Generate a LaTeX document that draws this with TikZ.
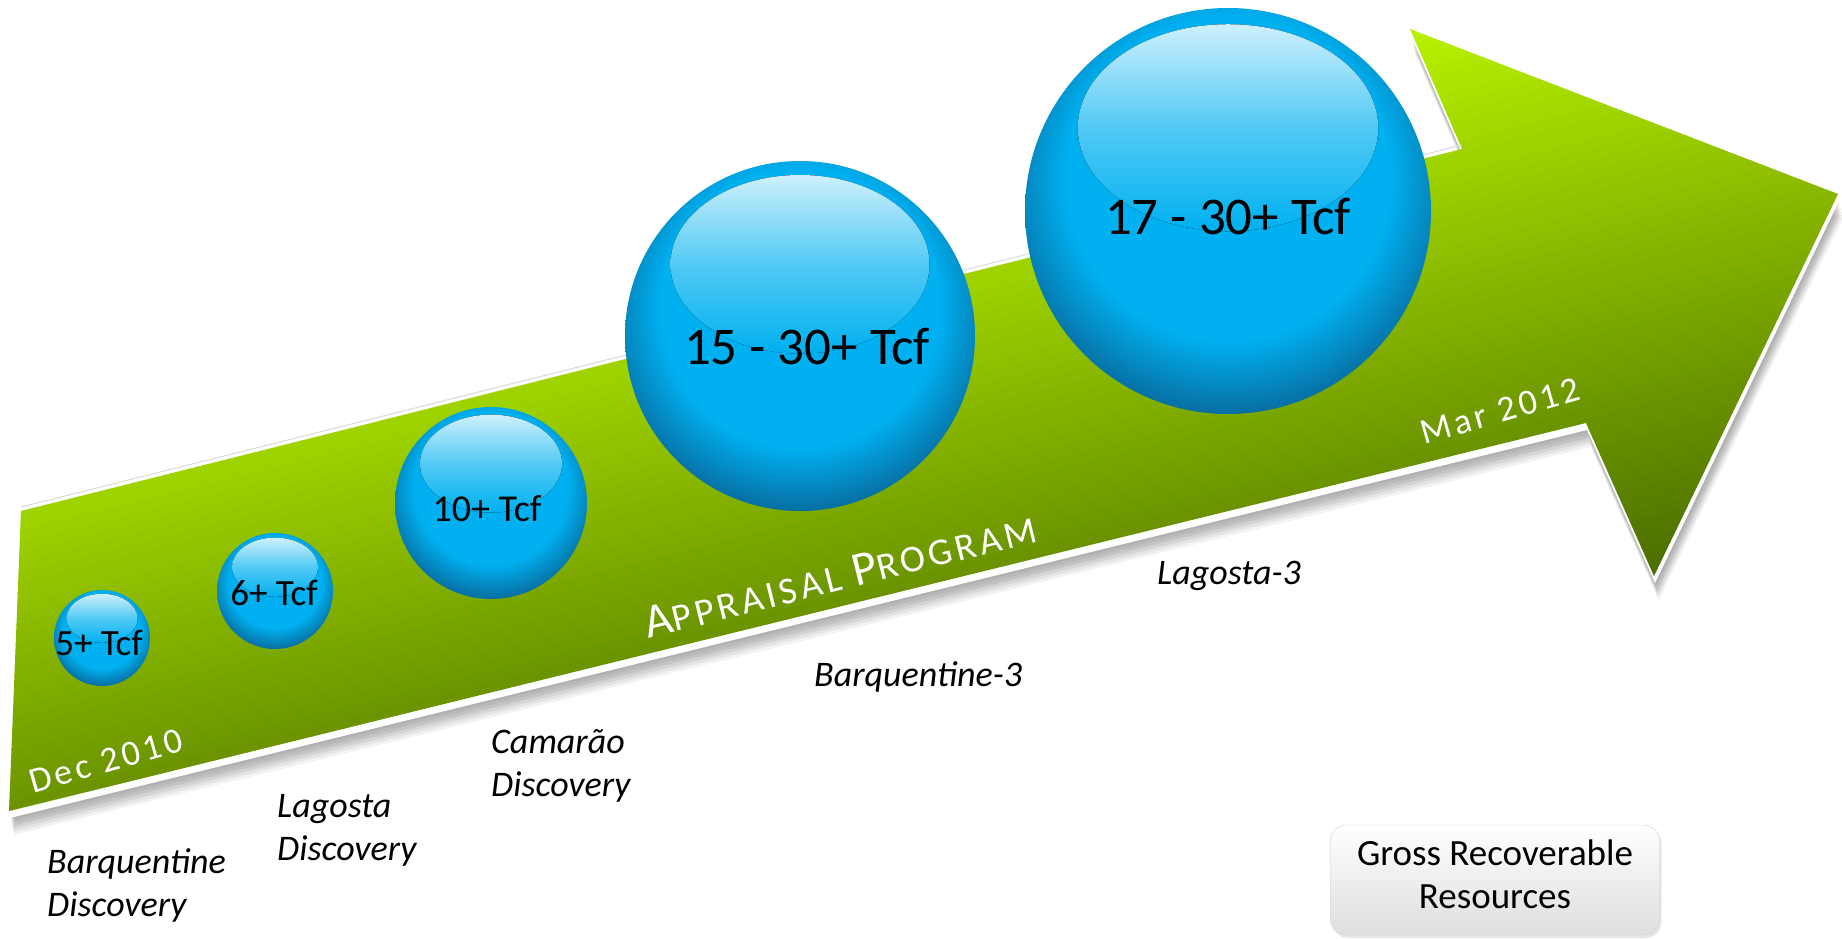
\documentclass[tikz,border=0pt]{standalone}
\usepackage{fontspec}
\setmainfont{Carlito}
\usetikzlibrary{calc,shadows}
\definecolor{bA}{HTML}{00B0F0}
\definecolor{bB}{HTML}{08689A}
\definecolor{hl}{HTML}{CDF0FB}
\definecolor{gLo}{HTML}{4A6C00}
\definecolor{gHi}{HTML}{BDF700}
\pgfdeclareradialshading{bubble}{\pgfpoint{0bp}{6bp}}{color(0bp)=(bA); color(20bp)=(bA); color(29bp)=(bB); color(60bp)=(bB)}
\newcommand\arrowshape[2]{(21+#1,427+#2) -- (1462+#1,789+#2) -- (1410+#1,909+#2) -- (1838+#1,744+#2) -- (1654+#1,362+#2) -- (1586+#1,515+#2) -- (9+#1,127+#2) -- cycle}
\newcommand\bubblehl[3]{\fill[top color=hl, bottom color=bA, middle color=hl!40!bA] (#1,{#2+0.41*#3}) ellipse [x radius={0.74*#3}, y radius={0.51*#3}];}
\tikzset{
  bub/.style={circle, inner sep=0pt, minimum size=#1pt, shade, shading=bubble, draw=none},
  btxt/.style={font=\fontsize{#1}{#1}\selectfont, inner sep=0pt, text=black},
  lbl/.style={anchor=west, align=left, inner sep=0pt, font=\itshape\fontsize{36}{43}\selectfont},
  datetxt/.style={inner sep=0pt, text=white, rotate=16, font=\fontsize{36}{36}\selectfont\addfontfeature{LetterSpace=10}},
  grbox/.style={draw=black!18, rounded corners=16pt, top color=white, bottom color=black!13,
     minimum width=329pt, minimum height=110pt, inner sep=0pt,
     drop shadow={opacity=0.2, shadow xshift=2pt, shadow yshift=-3pt}},
  grtxt/.style={align=center, inner sep=0pt, font=\fontsize{37}{43}\selectfont},
}
\begin{document}
\begin{tikzpicture}[x=1pt,y=1pt]
\useasboundingbox (0,0) rectangle (1842,938);
% arrow shadow
\foreach \s/\o in {9/0.05,12/0.06,15/0.07,18/0.07,21/0.06,24/0.05}{
  \fill[black,opacity=\o] \arrowshape{0.2*\s}{-\s};
}
\fill[white] \arrowshape{1}{-7};
% arrow body with gradient
\begin{scope}
  \clip \arrowshape{0}{0};
  \begin{scope}[rotate=14]
    \foreach \i in {0,...,62}{
      \pgfmathsetmacro\u{-60+10*\i}
      \pgfmathsetmacro\pc{100*\i/62}
      \fill[gHi!\pc!gLo] (-100,\u) rectangle (2200,\u+11);
    }
  \end{scope}
\end{scope}
\draw[black!15, line width=1pt] (21,431) -- (1462,793);
% bubbles
\node[bub=96] (b1) at (102,300) {};
\bubblehl{102}{300}{48}
\node[bub=116] (b2) at (275,347) {};
\bubblehl{275}{347}{58}
\node[bub=192] (b3) at (491,435) {};
\bubblehl{491}{435}{96}
\node[bub=350] (b4) at (800,602) {};
\bubblehl{800}{602}{175}
\node[bub=406] (b5) at (1228,727) {};
\bubblehl{1228}{727}{203}
% bubble texts
\node[btxt=37] (t1) at (99,295) {5+ Tcf};
\node[btxt=37] (t2) at (274,345) {6+ Tcf};
\node[btxt=38] (t3) at (487,429) {10+ Tcf};
\node[btxt=53] (t4) at (807,591) {15 - 30+ Tcf};
\node[btxt=53] (t5) at (1228,721) {17 - 30+ Tcf};
% dates
\node[datetxt] (dec) at (106,177) {Dec 2010};
\node[datetxt] (mar) at (1500,527) {Mar 2012};
% appraisal program
\node[inner sep=0pt, rotate=14, text=white, font=\addfontfeature{LetterSpace=10}] (ap) at (840,363)
  {{\fontsize{48}{48}\selectfont A}{\fontsize{38}{38}\selectfont PPRAISAL}\hspace{13pt}{\fontsize{48}{48}\selectfont P}{\fontsize{38}{38}\selectfont ROGRAM}};
% labels
\node[lbl] (lbB) at (47,53) {Barquentine\\Discovery};
\node[lbl] (lbL) at (277,108) {Lagosta\\Discovery};
\node[lbl] (lbC) at (491,172) {Camarão\\Discovery};
\node[lbl] (lb3) at (814,261) {Barquentine-3};
\node[lbl] (lL3) at (1157,362) {Lagosta-3};
% legend box
\node[grbox] (gr) at (1495,58) {};
\node[grtxt] (grt) at (1495,64) {Gross Recoverable\\Resources};
\end{tikzpicture}
\end{document}
